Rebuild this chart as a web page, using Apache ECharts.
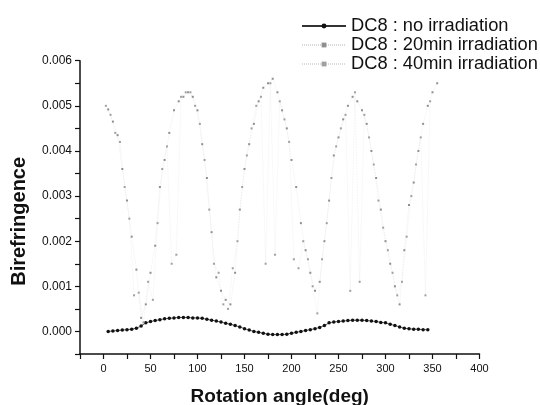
<!DOCTYPE html>
<html>
<head>
<meta charset="utf-8">
<script src="https://cdn.jsdelivr.net/npm/echarts@6/dist/echarts.min.js"></script>
<style>html,body{margin:0;padding:0;background:#fff}#c{width:540px;height:405px}</style>
</head>
<body>
<div id="c"></div>
<script>
const seriesNames = ['DC8 : no irradiation', 'DC8 : 20min irradiation', 'DC8 : 40min irradiation'];

const anglesNoIrr = [5,10,15,20,25,30,35,40,45,50,55,60,65,70,75,80,85,90,95,100,105,110,115,120,125,130,135,140,145,150,155,160,165,170,175,180,185,190,195,200,205,210,215,220,225,230,235,240,245,250,255,260,265,270,275,280,285,290,295,300,305,310,315,320,325,330,335,340,345];
const valuesNoIrr = [0.00000,0.00001,0.00002,0.00003,0.00004,0.00005,0.00007,0.00012,0.00019,0.00022,0.00024,0.00026,0.00028,0.00029,0.00030,0.00031,0.00031,0.00031,0.00030,0.00030,0.00029,0.00027,0.00025,0.00023,0.00021,0.00018,0.00016,0.00013,0.00010,0.00006,0.00003,0.00000,-0.00002,-0.00004,-0.00006,-0.00007,-0.00007,-0.00007,-0.00006,-0.00004,-0.00002,0.00000,0.00002,0.00004,0.00006,0.00009,0.00013,0.00019,0.00021,0.00022,0.00023,0.00024,0.00025,0.00025,0.00025,0.00024,0.00023,0.00022,0.00020,0.00019,0.00016,0.00013,0.00010,0.00007,0.00006,0.00005,0.00005,0.00004,0.00004];

const angles20 = [5,10,15,20,25,30,35,40,45,50,55,60,65,70,75,80,85,90,95,100,105,110,115,120,125,130,135,140,145,150,155,160,165,170,175,180,185,190,195,200,205,210,215,220,225,230,235,240,245,250,255,260,265,270,275,280,285,290,295,300,305,310,315,320,325,330,335,340,345,350,355];
const values20 = [0.00492,0.00465,0.00435,0.0036,0.0029,0.0021,0.00137,0.0003,0.0006,0.0013,0.0019,0.0032,0.0038,0.0044,0.0049,0.0051,0.0052,0.0053,0.0052,0.0049,0.00415,0.0034,0.0022,0.0012,0.0009,0.0007,0.0006,0.0013,0.0027,0.0036,0.00415,0.0046,0.0051,0.0054,0.0055,0.0056,0.0053,0.0049,0.0045,0.0038,0.0032,0.0024,0.0018,0.0013,0.0009,0.0011,0.0020,0.0029,0.0039,0.0043,0.0047,0.0050,0.0052,0.0051,0.0049,0.0046,0.0040,0.0034,0.0027,0.0020,0.0015,0.0010,0.0006,0.0018,0.0028,0.0033,0.0040,0.0046,0.0050,0.0053,0.0055];

const angles40 = [2.5,7.5,12.5,17.5,22.5,27.5,32.5,37.5,42.5,47.5,52.5,57.5,62.5,67.5,72.5,77.5,82.5,87.5,92.5,97.5,102.5,107.5,112.5,117.5,122.5,127.5,132.5,137.5,142.5,147.5,152.5,157.5,162.5,167.5,172.5,177.5,182.5,187.5,192.5,197.5,202.5,207.5,212.5,217.5,222.5,227.5,232.5,237.5,242.5,247.5,252.5,257.5,262.5,267.5,272.5,277.5,282.5,287.5,292.5,297.5,302.5,307.5,312.5,317.5,322.5,327.5,332.5,337.5,342.5,347.5];
const values40 = [0.0050,0.0048,0.0044,0.0042,0.0032,0.0025,0.0008,0.00086,0.0002,0.0011,0.0007,0.0024,0.0036,0.0041,0.0015,0.0017,0.0052,0.0053,0.0053,0.0050,0.0046,0.0038,0.0027,0.0015,0.0013,0.0006,0.0005,0.0014,0.0020,0.0032,0.0039,0.0045,0.0050,0.0052,0.0015,0.0055,0.0017,0.0051,0.0047,0.0042,0.0016,0.0014,0.0020,0.0016,0.0010,0.0004,0.0016,0.0024,0.0034,0.0041,0.0045,0.0048,0.0009,0.0053,0.0011,0.0048,0.0043,0.0037,0.0029,0.0023,0.0018,0.0013,0.0008,0.0011,0.0021,0.0030,0.0037,0.0043,0.0008,0.0051];

const zip = (a, b) => a.map((x, i) => [x, b[i]]);

const chart = echarts.init(document.getElementById('c'), null, {renderer: 'canvas'});
const FONT = '"Liberation Sans", Arial, sans-serif';
chart.setOption({
  animation: false,
  backgroundColor: '#fff',
  grid: {left: 80, right: 60.5, top: 60.7, bottom: 51, containLabel: false, outerBoundsMode: 'none'},
  legend: {
    orient: 'vertical', left: 296, top: 12, itemGap: 1,
    itemWidth: 44, itemHeight: 6,
    textStyle: {fontFamily: FONT, fontSize: 18.3, color: '#111'},
    data: [
      {name: seriesNames[0]},
      {name: seriesNames[1], lineStyle: {color: '#b0b0b0', opacity: 1, width: 1, type: 'dotted'}},
      {name: seriesNames[2], lineStyle: {color: '#b8b8b8', opacity: 1, width: 1, type: 'dotted'}}
    ]
  },
  xAxis: {
    type: 'value', min: -25, max: 400, interval: 25,
    name: 'Rotation angle(deg)', nameLocation: 'middle', nameGap: 33,
    nameTextStyle: {fontFamily: FONT, fontSize: 19, fontWeight: 'bold', color: '#111'},
    axisLine: {onZero: false, lineStyle: {color: '#111', width: 1.5}},
    axisTick: {show: true, inside: false, length: 5, lineStyle: {color: '#111', width: 1.2}},
    axisLabel: {
      margin: 9, fontFamily: FONT, fontSize: 11, color: '#111',
      formatter: v => (v >= 0 && v % 50 === 0) ? String(v) : ''
    },
    splitLine: {show: false}
  },
  yAxis: {
    type: 'value', min: -0.0005, max: 0.006, interval: 0.0005,
    name: 'Birefringence', nameLocation: 'middle', nameGap: 51, nameRotate: 90,
    nameTextStyle: {fontFamily: FONT, fontSize: 20, fontWeight: 'bold', color: '#111', padding: [0, 28, 0, 0]},
    axisLine: {show: true, onZero: false, lineStyle: {color: '#111', width: 1.5}},
    axisTick: {show: true, inside: false, length: 5, lineStyle: {color: '#111', width: 1.2}},
    axisLabel: {
      margin: 8, fontFamily: FONT, fontSize: 12, color: '#111',
      formatter: v => { const k = Math.round(v * 10000); return (k % 10 === 0) ? (k / 10000).toFixed(3) : ''; }
    },
    splitLine: {show: false}
  },
  series: [
    {
      name: seriesNames[0], type: 'line', data: zip(anglesNoIrr, valuesNoIrr),
      symbol: 'circle', symbolSize: 3.5, showSymbol: true,
      lineStyle: {color: '#333', width: 0.8},
      itemStyle: {color: '#111'}
    },
    {
      name: seriesNames[1], type: 'line', data: zip(angles20, values20),
      symbol: 'rect', symbolSize: 2, showSymbol: true,
      lineStyle: {color: '#c8c8c8', width: 0.8, type: 'dotted', opacity: 0.35},
      itemStyle: {color: '#8f8f8f'}
    },
    {
      name: seriesNames[2], type: 'line', data: zip(angles40, values40),
      symbol: 'rect', symbolSize: 2, showSymbol: true,
      lineStyle: {color: '#cfcfcf', width: 0.8, type: 'dotted', opacity: 0.35},
      itemStyle: {color: '#a0a0a0'}
    }
  ]
});
</script>
</body>
</html>
